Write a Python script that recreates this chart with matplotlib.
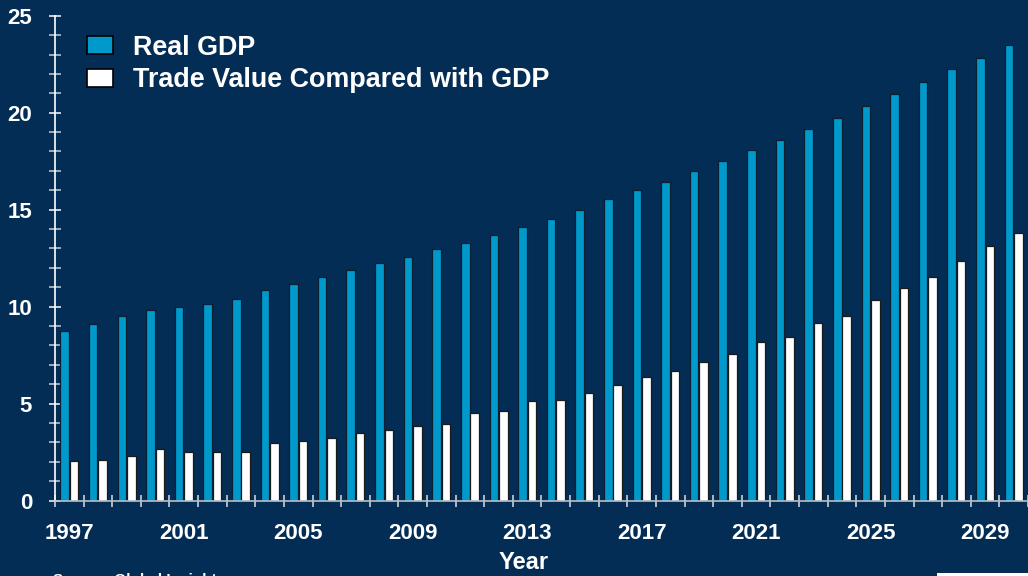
import numpy as np
import matplotlib.pyplot as plt
from matplotlib.patches import Rectangle
from matplotlib.ticker import FixedLocator, MultipleLocator

# Data (trillions, constant dollars)
years = list(range(1997, 2031))
real_gdp = [
    8.75, 9.10, 9.50, 9.84, 9.96, 10.12, 10.38, 10.84, 11.18, 11.51,
    11.87, 12.23, 12.57, 12.99, 13.30, 13.71, 14.12, 14.53, 15.00, 15.53,
    16.00, 16.44, 16.99, 17.53, 18.08, 18.59, 19.14, 19.74, 20.33, 20.96,
    21.57, 22.24, 22.84, 23.51,
]
trade_value = [
    2.04, 2.11, 2.31, 2.66, 2.48, 2.48, 2.52, 2.97, 3.09, 3.24,
    3.46, 3.65, 3.86, 3.96, 4.50, 4.63, 5.13, 5.17, 5.56, 5.96,
    6.35, 6.66, 7.16, 7.55, 8.19, 8.45, 9.15, 9.53, 10.32, 10.94,
    11.51, 12.34, 13.14, 13.78,
]
series_labels = ["Real GDP", "Trade Value Compared with GDP"]

BG = "#032d54"
BLUE = "#0099cc"
FONT = "Liberation Sans"

plt.rcParams["font.family"] = [FONT, "DejaVu Sans"]
plt.rcParams["font.weight"] = "bold"

fig = plt.figure(figsize=(10.28, 5.76), dpi=100, facecolor=BG)
ax = fig.add_axes([0.0535, 0.131, 0.9465, 0.8417], facecolor=BG)

x = np.arange(len(years))
width = 0.30
ax.bar(x - 0.165, real_gdp, width, color=BLUE, edgecolor="#0b1f33",
       linewidth=0.9, label=series_labels[0], zorder=2)
ax.bar(x + 0.165, trade_value, width, color="white", edgecolor="#1a1a1a",
       linewidth=0.9, label=series_labels[1], zorder=2)

ax.set_xlim(-0.5, len(years) - 0.5)
ax.set_ylim(0, 25)

for side in ("top", "right"):
    ax.spines[side].set_visible(False)
ax.spines["left"].set_color("white")
ax.spines["left"].set_linewidth(1.2)
ax.spines["bottom"].set_color("#b8c0c8")
ax.spines["bottom"].set_linewidth(1.2)

# y axis: majors every 5, minors every 1, crossing the spine
ax.yaxis.set_major_locator(MultipleLocator(5))
ax.yaxis.set_minor_locator(MultipleLocator(1))
ax.tick_params(axis="y", which="both", direction="inout", length=9,
               width=1.1, colors="white", labelsize=16, pad=12)
ax.tick_params(axis="y", which="minor", colors="#c8d0d8")

# x axis: crosses between categories, labels every four years
ax.xaxis.set_major_locator(FixedLocator(x[::4]))
ax.set_xticklabels([str(y) for y in years[::4]])
ax.xaxis.set_minor_locator(FixedLocator(np.arange(-0.5, len(years), 1.0)))
ax.tick_params(axis="x", which="major", length=0, labelsize=16,
               labelcolor="white", pad=16)
ax.tick_params(axis="x", which="minor", direction="inout", length=9,
               width=1.1, color="#d8dde2")

ax.set_xlabel("Year", color="white", fontsize=17, fontweight="bold")
ax.xaxis.set_label_coords(0.4815, -0.104)

leg = ax.legend(loc="upper left", bbox_to_anchor=(0.013, 1.0), frameon=False,
                fontsize=19.4, handlelength=1.0, handleheight=0.68,
                handletextpad=0.72, labelspacing=0.25, borderaxespad=0.3)
for text in leg.get_texts():
    text.set_color("white")
    text.set_fontweight("bold")
for patch in leg.get_patches():
    patch.set_edgecolor("black")
    patch.set_linewidth(1.2)

fig.text(0.052, 0.006, "Source: Global Insight", color="white", fontsize=11,
         va="top", ha="left")
fig.patches.append(Rectangle((0.9115, 0.0), 0.09, 0.006,
                             transform=fig.transFigure, facecolor="white",
                             edgecolor="none"))

fig.savefig("out.png", dpi=100, facecolor=BG)
